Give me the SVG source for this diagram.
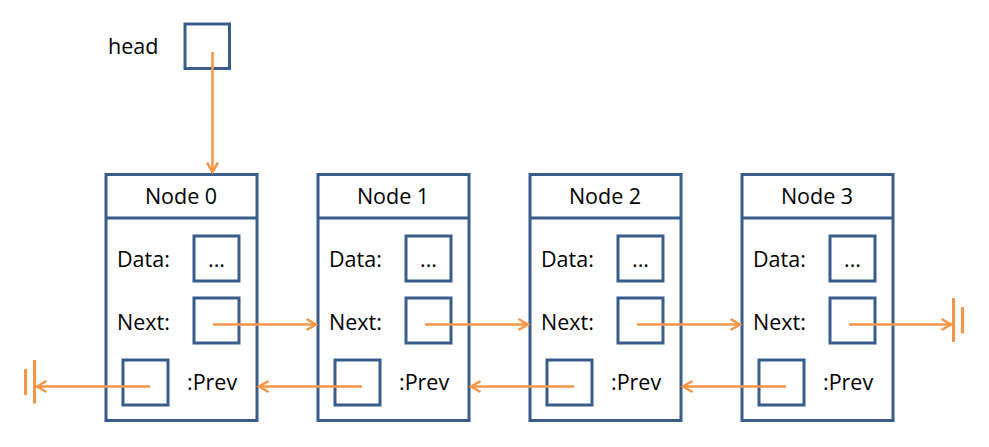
<svg xmlns="http://www.w3.org/2000/svg" width="989" height="447" viewBox="0 0 989 447">
<style>
.box{fill:#fff;stroke:#385D8A;stroke-width:3}
.in{fill:none;stroke:#385D8A;stroke-width:3}
.t{font-family:"Open Sans","Liberation Sans",sans-serif;font-size:21.5px;fill:#000}
.c{text-anchor:middle}
.ar{fill:none;stroke:#F79646;stroke-width:2.5}
.bar{stroke:#F79646;stroke-width:3}
</style>
<defs>
<marker id="ah" markerUnits="userSpaceOnUse" markerWidth="16" markerHeight="16" refX="12" refY="7" orient="auto">
<path d="M1.5,1.5 L11,7 L1.5,12.5" fill="none" stroke="#F79646" stroke-width="2.5"/>
</marker>
</defs>
<rect width="989" height="447" fill="#fff"/>
<g id="head">
<text class="t" x="108" y="54">head</text>
<rect class="box" x="185" y="24" width="44.5" height="44.5"/>
</g>
<g id="node0">
<rect class="box" x="106" y="174.5" width="151" height="246"/>
<line class="in" x1="106" y1="218" x2="257" y2="218"/>
<text class="t c" x="181" y="204">Node 0</text>
<text class="t" x="117" y="267">Data:</text>
<rect class="in" x="194" y="236" width="45" height="45"/>
<text class="t c" x="216.5" y="267">...</text>
<text class="t" x="117" y="330">Next:</text>
<rect class="in" x="194" y="298" width="45" height="45"/>
<rect class="in" x="123" y="360" width="45" height="45"/>
<text class="t" x="187" y="390">:Prev</text>
</g>
<g id="node1">
<rect class="box" x="318" y="174.5" width="151" height="246"/>
<line class="in" x1="318" y1="218" x2="469" y2="218"/>
<text class="t c" x="393" y="204">Node 1</text>
<text class="t" x="329" y="267">Data:</text>
<rect class="in" x="406" y="236" width="45" height="45"/>
<text class="t c" x="428.5" y="267">...</text>
<text class="t" x="329" y="330">Next:</text>
<rect class="in" x="406" y="298" width="45" height="45"/>
<rect class="in" x="335" y="360" width="45" height="45"/>
<text class="t" x="399" y="390">:Prev</text>
</g>
<g id="node2">
<rect class="box" x="530" y="174.5" width="151" height="246"/>
<line class="in" x1="530" y1="218" x2="681" y2="218"/>
<text class="t c" x="605" y="204">Node 2</text>
<text class="t" x="541" y="267">Data:</text>
<rect class="in" x="618" y="236" width="45" height="45"/>
<text class="t c" x="640.5" y="267">...</text>
<text class="t" x="541" y="330">Next:</text>
<rect class="in" x="618" y="298" width="45" height="45"/>
<rect class="in" x="547" y="360" width="45" height="45"/>
<text class="t" x="611" y="390">:Prev</text>
</g>
<g id="node3">
<rect class="box" x="742" y="174.5" width="151" height="246"/>
<line class="in" x1="742" y1="218" x2="893" y2="218"/>
<text class="t c" x="817" y="204">Node 3</text>
<text class="t" x="753" y="267">Data:</text>
<rect class="in" x="830" y="236" width="45" height="45"/>
<text class="t c" x="852.5" y="267">...</text>
<text class="t" x="753" y="330">Next:</text>
<rect class="in" x="830" y="298" width="45" height="45"/>
<rect class="in" x="759" y="360" width="45" height="45"/>
<text class="t" x="823" y="390">:Prev</text>
</g>
<g id="connectors">
<line class="ar" x1="212.5" y1="52" x2="212.5" y2="173" marker-end="url(#ah)"/>
<line class="ar" x1="213" y1="324.5" x2="317" y2="324.5" marker-end="url(#ah)"/>
<line class="ar" x1="425" y1="324.5" x2="529" y2="324.5" marker-end="url(#ah)"/>
<line class="ar" x1="637" y1="324.5" x2="741" y2="324.5" marker-end="url(#ah)"/>
<line class="ar" x1="849" y1="324.5" x2="952" y2="324.5" marker-end="url(#ah)"/>
<line class="ar" x1="362" y1="386.5" x2="258" y2="386.5" marker-end="url(#ah)"/>
<line class="ar" x1="574" y1="386.5" x2="470" y2="386.5" marker-end="url(#ah)"/>
<line class="ar" x1="786" y1="386.5" x2="682" y2="386.5" marker-end="url(#ah)"/>
<line class="ar" x1="150" y1="386.5" x2="36" y2="386.5" marker-end="url(#ah)"/>
<line class="bar" x1="953.5" y1="298" x2="953.5" y2="342"/>
<line class="bar" x1="962.5" y1="307" x2="962.5" y2="333.5"/>
<line class="bar" x1="34.5" y1="360" x2="34.5" y2="403.5"/>
<line class="bar" x1="25.5" y1="369" x2="25.5" y2="395"/>
</g>
</svg>
